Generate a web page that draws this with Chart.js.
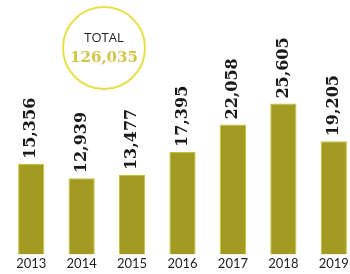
<!DOCTYPE html>
<html>
<head>
<meta charset="utf-8">
<script src="https://cdn.jsdelivr.net/npm/chart.js@4"></script>
<style>
html,body{margin:0;padding:0;background:#fff;overflow:hidden;}
#wrap{position:relative;width:360px;height:276px;}
</style>
</head>
<body>
<div id="wrap"><canvas id="chart"></canvas></div>
<script>
// data
const years = ["2013","2014","2015","2016","2017","2018","2019"];
const values = [15356, 12939, 13477, 17395, 22058, 25605, 19205];
const totalLabel = "TOTAL";
const totalValue = "126,035";

function fmt(v){ return v.toLocaleString("en-US"); }

// rotated value labels sitting on top of each bar
const valueLabels = {
    id:"valueLabels",
    afterDatasetsDraw(chart){
        const ctx = chart.ctx;
        const meta = chart.getDatasetMeta(0);
        ctx.save();
        ctx.font = "bold 16px 'DejaVu Serif'";
        ctx.fillStyle = "#1a1a1a";
        ctx.textAlign = "left";
        ctx.textBaseline = "middle";
        meta.data.forEach((bar,i)=>{
            ctx.save();
            ctx.translate(bar.x, bar.y - 5);
            ctx.rotate(-Math.PI/2);
            ctx.fillText(fmt(values[i]), 0, 0);
            ctx.restore();
        });
        ctx.restore();
    }
};

// the round "TOTAL" badge
const totalBadge = {
    id:"totalBadge",
    afterDraw(chart){
        const ctx = chart.ctx;
        const cx = 104, cy = 48, r = 41;
        ctx.save();
        ctx.beginPath();
        ctx.arc(cx, cy, r, 0, Math.PI*2);
        ctx.strokeStyle = "#e6df4a";
        ctx.lineWidth = 2;
        ctx.stroke();
        ctx.textAlign = "center";
        ctx.textBaseline = "middle";
        ctx.fillStyle = "#1e1e1e";
        ctx.font = "13px 'Open Sans'";
        ctx.fillText(totalLabel, cx, cy - 10);
        ctx.fillStyle = "#d2c64a";
        ctx.font = "bold 15px 'DejaVu Serif'";
        ctx.fillText(totalValue, cx, cy + 10);
        ctx.restore();
    }
};

new Chart(document.getElementById("chart"), {
    type:"bar",
    data:{
        labels:years,
        datasets:[{
            data:values,
            backgroundColor:"#a39a22",
            borderColor:"#c2c236",
            borderWidth:1,
            categoryPercentage:1,
            barPercentage:0.52
        }]
    },
    options:{
        responsive:true,
        maintainAspectRatio:false,
        animation:false,
        layout:{padding:{left:6,right:1,top:0,bottom:2}},
        plugins:{legend:{display:false},tooltip:{enabled:false}},
        scales:{
            x:{
                grid:{display:false,drawTicks:false},
                border:{display:false},
                ticks:{color:"#222",font:{family:"Lato",size:13},padding:2,maxRotation:0}
            },
            y:{
                display:false,
                min:0,
                max:43200
            }
        }
    },
    plugins:[valueLabels,totalBadge]
});
</script>
</body>
</html>
